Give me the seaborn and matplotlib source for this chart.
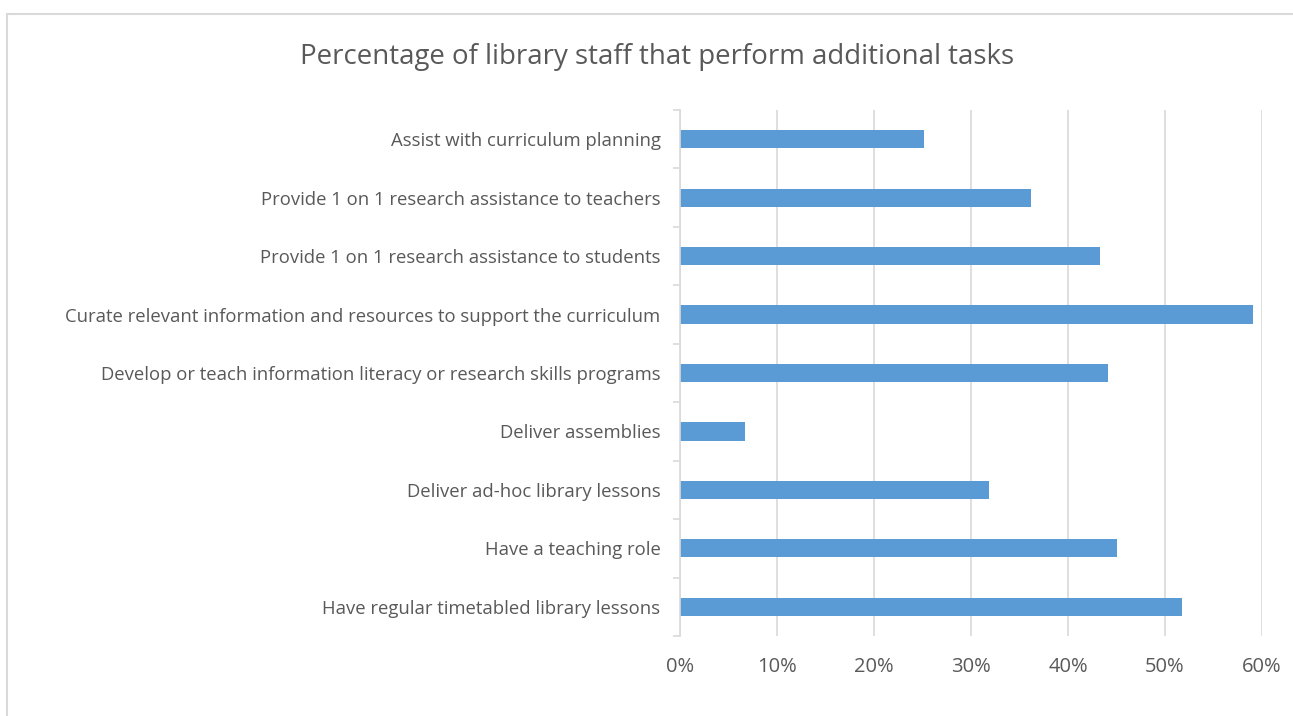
import matplotlib
matplotlib.use("Agg")
import matplotlib.pyplot as plt
import seaborn as sns
import pandas as pd
from matplotlib.patches import Rectangle
from matplotlib.ticker import FuncFormatter, FixedLocator

tasks = [
    "Assist with curriculum planning",
    "Provide 1 on 1 research assistance to teachers",
    "Provide 1 on 1 research assistance to students",
    "Curate relevant information and resources to support the curriculum",
    "Develop or teach information literacy or research skills programs",
    "Deliver assemblies",
    "Deliver ad-hoc library lessons",
    "Have a teaching role",
    "Have regular timetabled library lessons",
]
share = [0.252, 0.362, 0.433, 0.591, 0.441, 0.067, 0.319, 0.451, 0.518]
x_ticks = [0.0, 0.1, 0.2, 0.3, 0.4, 0.5, 0.6]

df = pd.DataFrame({"task": tasks, "share": share})

sns.set_theme(style="white")
plt.rcParams["font.family"] = ["Open Sans", "DejaVu Sans"]

text_col = "#595959"
grid_col = "#d9d9d9"

fig = plt.figure(figsize=(12.93, 7.16), dpi=100)
W, H = 1293, 716
ax = fig.add_axes([680 / W, 1 - 636 / H, (1262 - 680) / W, (636 - 110) / H])

sns.barplot(data=df, x="share", y="task", orient="h", color="#5b9bd5",
            saturation=1, width=0.31, ax=ax, edgecolor="none")

ax.set_xlim(0, 0.6)
ax.set_ylim(len(tasks) - 0.5, -0.5)
ax.xaxis.set_major_locator(FixedLocator(x_ticks))
ax.xaxis.set_major_formatter(FuncFormatter(lambda v, p: f"{v * 100:.0f}%"))
ax.grid(axis="x", color=grid_col, linewidth=1.2)
ax.set_axisbelow(True)
for s in ["top", "right", "bottom"]:
    ax.spines[s].set_visible(False)
ax.spines["left"].set_color(grid_col)
ax.spines["left"].set_linewidth(1.2)
ax.set_xlabel("")
ax.set_ylabel("")

ax.tick_params(axis="x", length=0, labelsize=14.5, labelcolor=text_col, pad=15)
ax.tick_params(axis="y", length=0, labelsize=13.3, labelcolor=text_col, pad=14)
# category-boundary tick marks on the left axis
ax.set_yticks([i + 0.5 for i in range(-1, len(tasks))], minor=True)
ax.tick_params(axis="y", which="minor", length=5, color=grid_col, width=1.2, left=True)

fig.text(657 / W, 1 - 57 / H, "Percentage of library staff that perform additional tasks",
         ha="center", va="center", fontsize=19.9, color=text_col)

fig.patches.append(Rectangle((7 / W, -0.01), 1.0, 1 - 14 / H + 0.01,
                             transform=fig.transFigure, fill=False,
                             edgecolor=grid_col, linewidth=1.5))

fig.savefig("out.png", dpi=100, facecolor="white")
